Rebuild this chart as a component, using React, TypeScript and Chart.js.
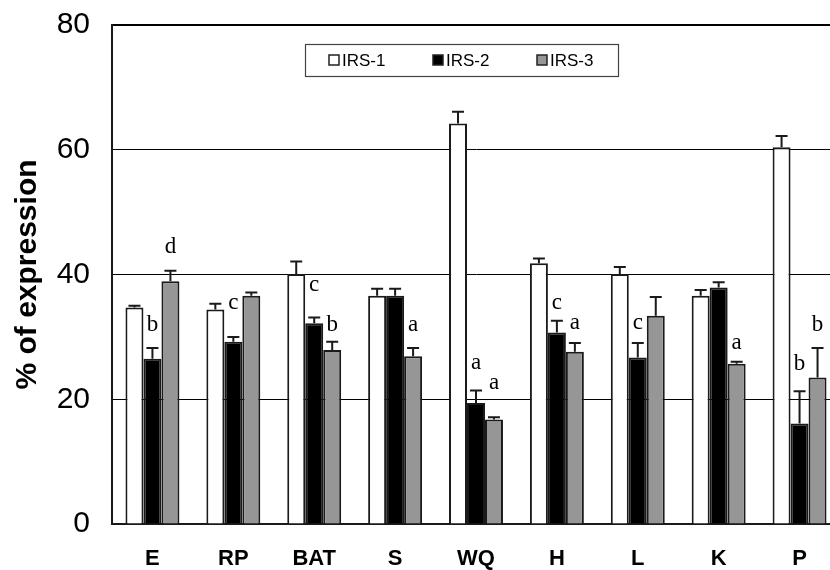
import { useEffect, useRef } from 'react';
import { Chart, registerables } from 'chart.js';

Chart.register(...registerables);

// ---- data ----
const categories = ['E', 'RP', 'BAT', 'S', 'WQ', 'H', 'L', 'K', 'P'];
const seriesNames = ['IRS-1', 'IRS-2', 'IRS-3'];

const irs1 = [34.7, 34.4, 40.1, 36.6, 64.2, 41.8, 40.1, 36.6, 60.4];
const irs1Err = [0.3, 0.9, 2.0, 1.1, 1.9, 0.75, 1.1, 0.9, 1.8];

const irs2 = [26.5, 29.2, 32.2, 36.6, 19.4, 30.7, 26.7, 37.9, 16.1];
const irs2Err = [1.7, 0.8, 0.9, 1.1, 2.0, 1.9, 2.3, 0.85, 5.2];

const irs3 = [38.9, 36.6, 27.9, 26.9, 16.75, 27.6, 33.4, 25.7, 23.5];
const irs3Err = [1.7, 0.5, 1.3, 1.3, 0.35, 1.4, 3.0, 0.3, 4.7];

// significance letters and the value level of their baseline
const irs1Letters = ['', '', '', '', '', '', '', '', ''];
const irs1LetterY = [null, null, null, null, null, null, null, null, null];
const irs2Letters = ['b', 'c', 'c', '', 'a', 'c', 'c', '', 'b'];
const irs2LetterY = [31.0, 34.4, 37.4, null, 24.9, 34.4, 31.2, null, 24.7];
const irs3Letters = ['d', '', 'b', 'a', 'a', 'a', '', 'a', 'b'];
const irs3LetterY = [43.4, null, 31.0, 31.0, 21.7, 31.2, null, 28.0, 31.0];

const yTicks = [0, 20, 40, 60, 80];
const yTitle = '% of expression';

const SANS = '"Liberation Sans", Arial, Helvetica, sans-serif';
const SERIF = '"Liberation Serif", "Times New Roman", serif';

const errorBarPlugin = {
  id: 'errorBarsAndLetters',
  afterDatasetsDraw(chart: any) {
    const ctx = chart.ctx;
    const yScale = chart.scales.y;
    chart.data.datasets.forEach((ds: any, i: number) => {
      const meta = chart.getDatasetMeta(i);
      meta.data.forEach((bar: any, j: number) => {
        const v = ds.data[j];
        const top = yScale.getPixelForValue(v + ds.errors[j]);
        ctx.save();
        ctx.strokeStyle = '#1a1a1a';
        ctx.lineWidth = 2;
        ctx.beginPath();
        ctx.moveTo(bar.x, bar.y);
        ctx.lineTo(bar.x, top);
        ctx.moveTo(bar.x - 6, top);
        ctx.lineTo(bar.x + 6, top);
        ctx.stroke();
        const letter = ds.letters[j];
        const ly = ds.letterY[j];
        if (letter && ly != null) {
          ctx.font = '23px ' + SERIF;
          ctx.fillStyle = '#000';
          ctx.textAlign = 'center';
          ctx.textBaseline = 'alphabetic';
          ctx.fillText(letter, bar.x, yScale.getPixelForValue(ly));
        }
        ctx.restore();
      });
    });
  },
};

const boxLegendPlugin = {
  id: 'boxLegend',
  afterDraw(chart: any) {
    const ctx = chart.ctx;
    const x0 = 305;
    const y0 = 44;
    const w = 313;
    const h = 32;
    ctx.save();
    ctx.fillStyle = '#fff';
    ctx.fillRect(x0, y0, w, h);
    ctx.strokeStyle = '#444';
    ctx.lineWidth = 1.2;
    ctx.strokeRect(x0 + 0.5, y0 + 0.5, w, h);
    ctx.font = '17px ' + SANS;
    ctx.textBaseline = 'middle';
    ctx.textAlign = 'left';
    const cy = y0 + h / 2;
    chart.data.datasets.forEach((ds: any, i: number) => {
      const mx = x0 + 24 + i * 104;
      ctx.fillStyle = ds.backgroundColor;
      ctx.fillRect(mx, cy - 5, 10, 10);
      ctx.strokeStyle = '#222';
      ctx.lineWidth = 1.5;
      ctx.strokeRect(mx, cy - 5, 10, 10);
      ctx.fillStyle = '#000';
      ctx.fillText(ds.label, mx + 13, cy + 1);
    });
    ctx.restore();
  },
};

export default function App() {
  const canvasRef = useRef<HTMLCanvasElement | null>(null);

  useEffect(() => {
    const canvas = canvasRef.current;
    if (!canvas) return;
    const values = [irs1, irs2, irs3];
    const errs = [irs1Err, irs2Err, irs3Err];
    const letters = [irs1Letters, irs2Letters, irs3Letters];
    const letterYs = [irs1LetterY, irs2LetterY, irs3LetterY];
    const fills = ['#ffffff', '#000000', '#969696'];

    const chart = new Chart(canvas, {
      type: 'bar',
      data: {
        labels: categories,
        datasets: seriesNames.map((name, i) => ({
          label: name,
          data: values[i],
          errors: errs[i],
          letters: letters[i],
          letterY: letterYs[i],
          backgroundColor: fills[i],
          borderColor: '#1a1a1a',
          borderWidth: 2,
          borderSkipped: 'start',
          categoryPercentage: 0.667,
          barPercentage: 1.0,
        })) as any,
      },
      options: {
        responsive: false,
        animation: false,
        devicePixelRatio: 1,
        layout: { padding: { top: 25, left: 0, right: 0, bottom: 0 } },
        plugins: {
          legend: { display: false },
          tooltip: { enabled: false },
        },
        scales: {
          x: {
            grid: { display: false, drawTicks: false },
            border: { display: true, color: '#1a1a1a', width: 2 },
            ticks: {
              color: '#000',
              padding: 22,
              font: { family: SANS, size: 22, weight: 'bold' },
            },
            afterFit: (scale: any) => {
              scale.height = 46;
              scale.paddingLeft = 0;
              scale.paddingRight = 0;
            },
          },
          y: {
            min: 0,
            max: 80,
            afterBuildTicks: (scale: any) => {
              scale.ticks = yTicks.map((v) => ({ value: v }));
            },
            grid: {
              color: '#000',
              lineWidth: (c: any) => (c.tick && c.tick.value === 80 ? 2 : 1),
              drawTicks: false,
            },
            border: { display: true, color: '#1a1a1a', width: 2 },
            ticks: {
              color: '#000',
              padding: 22,
              font: { family: SANS, size: 30 },
            },
            title: {
              display: true,
              text: yTitle,
              color: '#000',
              padding: { top: 10, bottom: 0 },
              font: { family: SANS, size: 30, weight: 'bold' },
            },
            afterFit: (scale: any) => {
              scale.width = 112;
              scale.paddingTop = 0;
              scale.paddingBottom = 0;
            },
          },
        },
      } as any,
      plugins: [errorBarPlugin, boxLegendPlugin],
    });
    return () => chart.destroy();
  }, []);

  return (
    <div
      style={{
        position: 'fixed',
        left: 0,
        top: 0,
        width: 830,
        height: 570,
        overflow: 'hidden',
        background: '#fff',
      }}
    >
      <canvas
        ref={canvasRef}
        width={840}
        height={570}
        style={{ display: 'block', width: 840, height: 570 }}
      />
    </div>
  );
}
